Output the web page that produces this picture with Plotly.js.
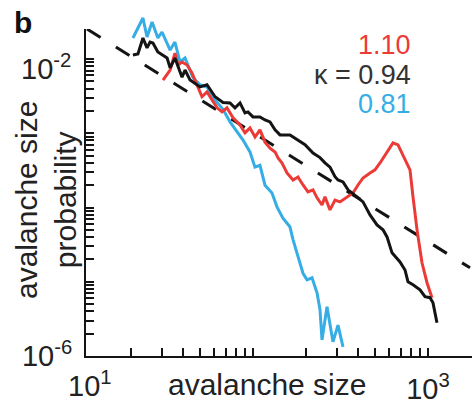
<!DOCTYPE html>
<html><head><meta charset="utf-8">
<script src="https://cdn.plot.ly/plotly-3.0.1.min.js"></script>
<style>html,body{margin:0;padding:0;background:#fff}#chart{width:472px;height:406px}</style>
</head><body><div id="chart"></div>
<script>
// kappa = 0.81 (blue)
const sizeBlue = [20.6, 23.5, 24.8, 26.5, 28.6, 30.2, 33.6, 35.8, 38.3, 40.9, 45.4, 49.8, 54.6, 60.6, 67.4, 73.9, 87.7, 96.1, 102.6, 109.6, 117.1, 128.4, 137.1, 148.3, 162.5, 169.3, 180.7, 193.1, 203.6, 217.4, 232.2, 241.5, 247.9, 264.8, 286.4, 306, 326.8];
const probBlue = [0.0192, 0.0357, 0.0198, 0.0315, 0.0192, 0.0231, 0.0132, 0.0169, 0.0091, 0.0103, 0.0056, 0.0045, 0.0042, 0.0028, 0.0021, 0.00142, 0.00081, 0.00056, 0.00035, 0.00037, 0.0002, 0.000157, 0.000102, 7.2e-5, 5.5e-5, 3.7e-5, 2.2e-5, 1.3e-5, 1.06e-5, 1.13e-5, 7.1e-6, 4.2e-6, 1.65e-6, 4.6e-6, 1.55e-6, 2.6e-6, 1.33e-6];
// kappa = 0.94 (black)
const sizeBlack = [20.6, 22.0, 23.5, 24.8, 25.8, 26.8, 28.6, 32.3, 33.6, 35.8, 39.3, 40.9, 43.7, 49.8, 54.6, 60.7, 67.4, 73.9, 78.9, 84.3, 90.0, 93.6, 100, 109.6, 117.1, 125.1, 133.6, 142.7, 162.7, 180.7, 198.2, 220.3, 241.5, 257.8, 275.4, 294.1, 306.0, 326.8, 349.1, 393.0, 425.2, 466.3, 511.2, 553.2, 583.2, 622.9, 691.8, 739.0, 768.6, 821, 900.2, 961.5, 1026.6, 1068, 1125];
const probBlack = [0.0113, 0.0117, 0.0192, 0.0141, 0.0169, 0.0164, 0.0124, 0.0103, 0.0076, 0.0103, 0.0057, 0.0071, 0.0052, 0.0042, 0.0045, 0.0031, 0.0026, 0.00256, 0.0022, 0.00256, 0.00188, 0.00194, 0.00166, 0.00166, 0.00151, 0.00142, 0.00111, 0.00095, 0.00095, 0.00081, 0.0007, 0.00054, 0.00047, 0.0004, 0.00035, 0.00026, 0.000235, 0.000221, 0.000173, 0.000139, 0.000119, 7.95e-5, 5.83e-5, 5.0e-5, 4.02e-5, 2.45e-5, 1.85e-5, 1.44e-5, 1.0e-5, 9.1e-6, 7.8e-6, 6.3e-6, 6.1e-6, 5.2e-6, 2.8e-6];
// kappa = 1.10 (red)
const sizeRed = [30.6, 33.6, 35.8, 37.3, 39.3, 42.0, 44.8, 47.9, 51.1, 54.6, 58.3, 62.3, 66.5, 71.0, 76.9, 84.3, 90.0, 96.1, 102.7, 109.6, 117.1, 125.1, 133.6, 139.0, 146.5, 156.4, 169.3, 180.7, 193.1, 206.2, 220.3, 232.2, 247.9, 257.8, 275.4, 294.1, 314.1, 344.5, 372.8, 398.1, 425.2, 466.3, 497.9, 531.7, 583.2, 631.0, 673.9, 739.0, 789.1, 821, 865.6, 923.9, 987, 1054];
const probRed = [0.0052, 0.0071, 0.0120, 0.0083, 0.0091, 0.0083, 0.0065, 0.0045, 0.0031, 0.0036, 0.0028, 0.0022, 0.00194, 0.0022, 0.00161, 0.00129, 0.00101, 0.00118, 0.00089, 0.00111, 0.00076, 0.00063, 0.00056, 0.000465, 0.000398, 0.000292, 0.000235, 0.000258, 0.000201, 0.000162, 0.000173, 0.000135, 0.000108, 0.000139, 9.3e-5, 0.000126, 0.000119, 0.000139, 0.000157, 0.000201, 0.00025, 0.000292, 0.000321, 0.000398, 0.00056, 0.00074, 0.000696, 0.000437, 0.000321, 0.000139, 5.0e-5, 1.8e-5, 9.7e-6, 6.1e-6];
// power-law reference (dashed)
const fitSize = [11.26, 1738];
const fitProb = [0.02535, 1.54e-5];

const kappaLabels = ['1.10', '\u03BA = 0.94', '0.81'];
const xTickVals = [20, 30, 40, 50, 60, 70, 80, 90, 100, 200, 300, 400, 500, 600, 700, 800, 900, 1000];
const xTickText = ['', '', '', '', '', '', '', '', '', '', '', '', '', '', '', '', '', '10<sup>3</sup>'];
const yTickVals = [1e-6, 2e-6, 3e-6, 4e-6, 5e-6, 6e-6, 7e-6, 8e-6, 9e-6,
                   1e-5, 2e-5, 3e-5, 4e-5, 5e-5, 6e-5, 7e-5, 8e-5, 9e-5,
                   1e-4, 2e-4, 3e-4, 4e-4, 5e-4, 6e-4, 7e-4, 8e-4, 9e-4,
                   1e-3, 2e-3, 3e-3, 4e-3, 5e-3, 6e-3, 7e-3, 8e-3, 9e-3, 1e-2];
const yTickText = yTickVals.map(v => v === 1e-6 ? '10<sup>-6</sup>' : '');

const RED = '#ec3b37', BLUE = '#36ade4', BLACK = '#141414';
const FONT = 'Liberation Sans, Arial, sans-serif';

// visible axes span plot px 29..356; data layer (y2) extends up to px 14 so peaks above the axis top stay visible
const H_AXIS = 327, H_ALL = 342, Y_TOP = -1.596, Y_BOT = -6;
const y2Top = Y_BOT + (Y_TOP - Y_BOT) * H_ALL / H_AXIS;

const traces = [
  {x: fitSize, y: fitProb, xaxis: 'x', yaxis: 'y', mode: 'lines', line: {color: BLACK, width: 3, dash: '16px,18px'}, hoverinfo: 'skip'},
  {x: sizeBlue, y: probBlue, xaxis: 'x', yaxis: 'y2', mode: 'lines', line: {color: BLUE, width: 3}, hoverinfo: 'skip'},
  {x: sizeRed, y: probRed, xaxis: 'x', yaxis: 'y2', mode: 'lines', line: {color: RED, width: 3}, hoverinfo: 'skip'},
  {x: sizeBlack, y: probBlack, xaxis: 'x', yaxis: 'y2', mode: 'lines', line: {color: BLACK, width: 3}, hoverinfo: 'skip'}
];

const axisCommon = {
  type: 'log', showline: true, linewidth: 2, linecolor: BLACK,
  ticks: 'inside', ticklen: 8, tickwidth: 2, tickcolor: BLACK,
  showgrid: false, zeroline: false, fixedrange: true,
  tickfont: {family: FONT, size: 29, color: '#222'}
};

const py = p => (356 - p) / H_ALL;   // pixel row -> paper y
const px = p => (p - 86) / 386;      // pixel column -> paper x

const layout = {
  width: 472, height: 406,
  margin: {l: 86, r: 0, t: 14, b: 50},
  paper_bgcolor: '#fff', plot_bgcolor: 'rgba(0,0,0,0)',
  showlegend: false,
  font: {family: FONT, color: '#222'},
  xaxis: Object.assign({}, axisCommon, {anchor: 'y', range: [1.0457, 3.2514], tickmode: 'array', tickvals: xTickVals, ticktext: xTickText, ticklabelstandoff: 6}),
  yaxis: Object.assign({}, axisCommon, {anchor: 'x', domain: [0, H_AXIS / H_ALL], range: [Y_BOT, Y_TOP], tickmode: 'array', tickvals: yTickVals, ticktext: yTickText, ticklabelstandoff: 6}),
  yaxis2: {type: 'log', anchor: 'x', domain: [0, 1], range: [Y_BOT, y2Top], visible: false, showgrid: false, zeroline: false, fixedrange: true},
  annotations: [
    {text: '<b>b</b>', xref: 'paper', yref: 'paper', x: px(12), y: py(23), xanchor: 'left', yanchor: 'middle', showarrow: false, font: {family: FONT, size: 30, color: '#111'}},
    {text: kappaLabels[0], xref: 'paper', yref: 'paper', x: px(413), y: py(45), xanchor: 'right', yanchor: 'middle', showarrow: false, font: {family: FONT, size: 27, color: RED}},
    {text: kappaLabels[1], xref: 'paper', yref: 'paper', x: px(413), y: py(75), xanchor: 'right', yanchor: 'middle', showarrow: false, font: {family: FONT, size: 27, color: '#333'}},
    {text: kappaLabels[2], xref: 'paper', yref: 'paper', x: px(413), y: py(104), xanchor: 'right', yanchor: 'middle', showarrow: false, font: {family: FONT, size: 27, color: BLUE}},
    {text: '10<sup>-2</sup>', xref: 'paper', yref: 'y', x: px(73), y: -2, yshift: -8, xanchor: 'right', yanchor: 'middle', showarrow: false, font: {family: FONT, size: 29, color: '#222'}},
    {text: '10<sup>1</sup>', xref: 'paper', yref: 'paper', x: px(90), y: py(404), xanchor: 'center', yanchor: 'bottom', showarrow: false, font: {family: FONT, size: 29, color: '#222'}},
    {text: 'avalanche size', xref: 'paper', yref: 'paper', x: px(266.5), y: py(384.5), xanchor: 'center', yanchor: 'middle', showarrow: false, font: {family: FONT, size: 30, color: '#222'}},
    {text: 'avalanche size<br>probability', xref: 'paper', yref: 'paper', x: px(46), y: py(200), xanchor: 'center', yanchor: 'middle', textangle: -90, showarrow: false, font: {family: FONT, size: 30, color: '#222'}}
  ]
};

Plotly.newPlot('chart', traces, layout, {displayModeBar: false, staticPlot: true});
</script>
</body></html>
